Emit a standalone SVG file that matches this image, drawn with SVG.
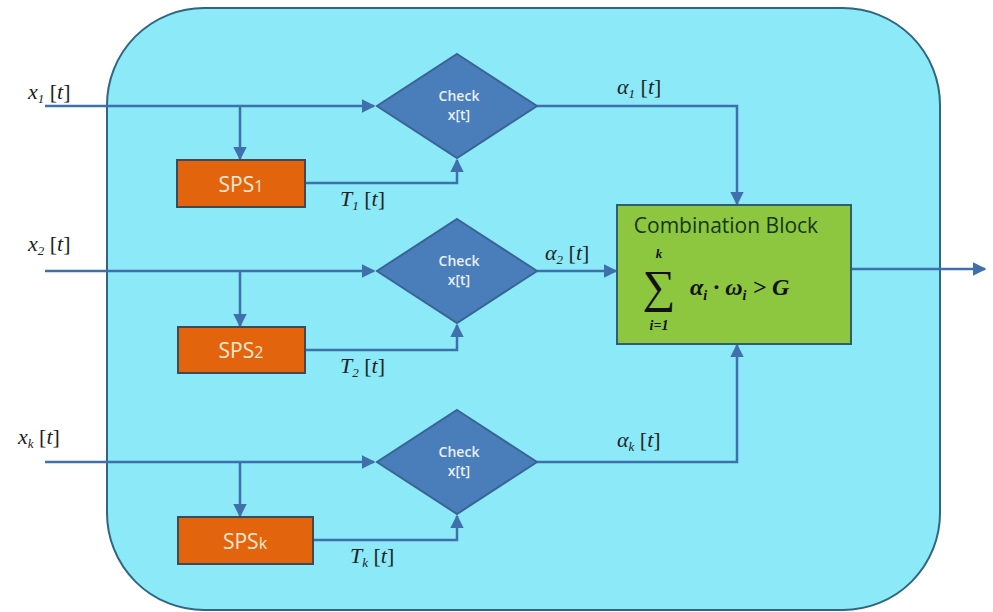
<svg xmlns="http://www.w3.org/2000/svg" width="993" height="612" viewBox="0 0 993 612">
<defs>
<marker id="ah" viewBox="0 0 10 10" refX="9" refY="5" markerWidth="5.5" markerHeight="5.5" orient="auto" markerUnits="strokeWidth">
<path d="M0,0 L10,5 L0,10 z" fill="#3F70AC"/>
</marker>
<style>
.ln{fill:none;stroke:#3F70AC;stroke-width:2.5}
.dia{fill:#4A7EBB;stroke:#3A6495;stroke-width:2}
.chk{font-family:"Open Sans","Liberation Sans",sans-serif;font-size:14px;font-weight:600;fill:#E8F0FA;text-anchor:middle}
.sps{fill:#E2650D;stroke:#3C4A5A;stroke-width:2}
.spst{font-family:"Open Sans","Liberation Sans",sans-serif;font-size:21px;fill:#FCE8D6;text-anchor:middle}
.m{font-family:"Liberation Serif",serif;font-size:22px;fill:#222}
.i{font-style:italic}
.sub{font-size:13px;font-style:italic}
</style>
</defs>
<rect x="0" y="0" width="993" height="612" fill="#ffffff"/>
<g id="container">
<rect x="107" y="8" width="833" height="602" rx="97" ry="97" fill="#8BE9F8" stroke="#2F6680" stroke-width="2"/>
</g>
<g id="connectors">
<path class="ln" d="M45,106 H374" marker-end="url(#ah)"/>
<path class="ln" d="M240,106 V159" marker-end="url(#ah)"/>
<path class="ln" d="M305,183 H457 V160" marker-end="url(#ah)"/>
<path class="ln" d="M537,106 H737 V204" marker-end="url(#ah)"/>
<path class="ln" d="M45,271 H374" marker-end="url(#ah)"/>
<path class="ln" d="M240,271 V326" marker-end="url(#ah)"/>
<path class="ln" d="M305,350 H457 V325" marker-end="url(#ah)"/>
<path class="ln" d="M537,271 H616" marker-end="url(#ah)"/>
<path class="ln" d="M45,462 H374" marker-end="url(#ah)"/>
<path class="ln" d="M240,462 V516" marker-end="url(#ah)"/>
<path class="ln" d="M313,540 H457 V516" marker-end="url(#ah)"/>
<path class="ln" d="M537,462 H737 V345" marker-end="url(#ah)"/>
<path class="ln" d="M851,269 H985" marker-end="url(#ah)"/>
</g>
<g id="labels">
<text class="m" x="28" y="99"><tspan class="i">x</tspan><tspan class="sub" dy="4">1</tspan><tspan dy="-4"> [</tspan><tspan class="i">t</tspan>]</text>
<text class="m" x="28" y="251"><tspan class="i">x</tspan><tspan class="sub" dy="4">2</tspan><tspan dy="-4"> [</tspan><tspan class="i">t</tspan>]</text>
<text class="m" x="18" y="444"><tspan class="i">x</tspan><tspan class="sub" dy="4">k</tspan><tspan dy="-4"> [</tspan><tspan class="i">t</tspan>]</text>
<text class="m" x="340" y="206"><tspan class="i">T</tspan><tspan class="sub" dy="4">1</tspan><tspan dy="-4"> [</tspan><tspan class="i">t</tspan>]</text>
<text class="m" x="340" y="373"><tspan class="i">T</tspan><tspan class="sub" dy="4">2</tspan><tspan dy="-4"> [</tspan><tspan class="i">t</tspan>]</text>
<text class="m" x="350" y="563"><tspan class="i">T</tspan><tspan class="sub" dy="4">k</tspan><tspan dy="-4"> [</tspan><tspan class="i">t</tspan>]</text>
<text class="m" x="617" y="94"><tspan class="i">α</tspan><tspan class="sub" dy="4">1</tspan><tspan dy="-4"> [</tspan><tspan class="i">t</tspan>]</text>
<text class="m" x="545" y="260"><tspan class="i">α</tspan><tspan class="sub" dy="4">2</tspan><tspan dy="-4"> [</tspan><tspan class="i">t</tspan>]</text>
<text class="m" x="617" y="447"><tspan class="i">α</tspan><tspan class="sub" dy="4">k</tspan><tspan dy="-4"> [</tspan><tspan class="i">t</tspan>]</text>
</g>
<g id="check1">
<polygon class="dia" points="457,54 537,106 457,158 377,106"/>
<text class="chk" x="459" y="101">Check</text>
<text class="chk" x="459" y="120">x[t]</text>
</g>
<g id="check2">
<polygon class="dia" points="457,219 537,271 457,323 377,271"/>
<text class="chk" x="459" y="266">Check</text>
<text class="chk" x="459" y="285">x[t]</text>
</g>
<g id="checkk">
<polygon class="dia" points="457,410 537,462 457,514 377,462"/>
<text class="chk" x="459" y="457">Check</text>
<text class="chk" x="459" y="476">x[t]</text>
</g>
<g id="sps1">
<rect class="sps" x="177" y="160" width="128" height="47"/>
<text class="spst" x="241" y="192">SPS<tspan font-size="16">1</tspan></text>
</g>
<g id="sps2">
<rect class="sps" x="178" y="327" width="127" height="46"/>
<text class="spst" x="241" y="358">SPS<tspan font-size="16">2</tspan></text>
</g>
<g id="spsk">
<rect class="sps" x="178" y="517" width="135" height="47"/>
<text class="spst" x="245" y="549">SPS<tspan font-size="16">k</tspan></text>
</g>
<g id="combination">
<rect x="617" y="205" width="234" height="139" fill="#8DC63F" stroke="#2F5F6E" stroke-width="2"/>
<text x="726" y="233" font-family="'Open Sans','Liberation Sans',sans-serif" font-size="21" fill="#15361A" text-anchor="middle">Combination Block</text>
<text x="659" y="258" font-family="'Liberation Serif',serif" font-style="italic" font-weight="bold" font-size="13" fill="#111" text-anchor="middle">k</text>
<text x="659" y="302" font-family="'Liberation Serif',serif" font-size="46" fill="#111" text-anchor="middle">∑</text>
<text x="659" y="330" font-family="'Liberation Serif',serif" font-style="italic" font-weight="bold" font-size="14" fill="#111" text-anchor="middle">i=1</text>
<text x="690" y="295" font-family="'Liberation Serif',serif" font-style="italic" font-weight="bold" font-size="24" fill="#111">α<tspan font-size="14" dy="5">i</tspan><tspan dy="-5"> · ω</tspan><tspan font-size="14" dy="5">i</tspan><tspan dy="-5"> &gt; G</tspan></text>
</g>
</svg>
